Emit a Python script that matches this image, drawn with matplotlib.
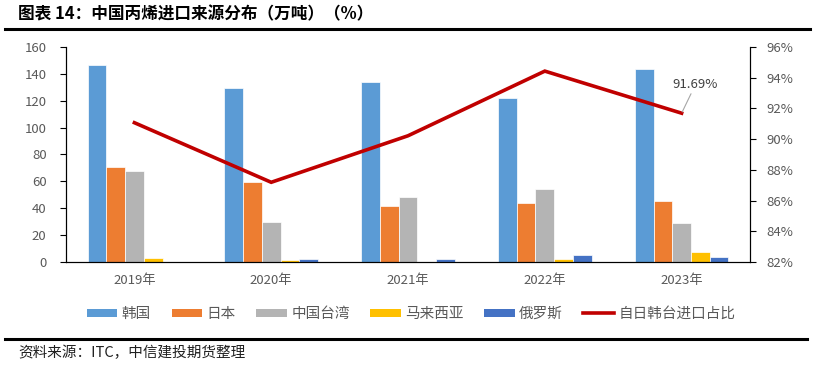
import numpy as np
import matplotlib
matplotlib.use('Agg')
import matplotlib.pyplot as plt
from matplotlib.lines import Line2D
from matplotlib.patches import Patch
from matplotlib.ticker import FuncFormatter

plt.rcParams['font.family'] = ['Noto Sans CJK SC', 'DejaVu Sans']

years = ['2019年', '2020年', '2021年', '2022年', '2023年']
korea = [146.5, 129.2, 134.2, 122.3, 143.6]
japan = [70.4, 59.8, 41.9, 43.6, 45.4]
taiwan = [67.7, 29.5, 48.6, 54.3, 29.3]
malaysia = [2.7, 1.7, 0.2, 2.3, 7.2]
russia = [0.3, 2.2, 2.5, 5.0, 3.7]
share = [91.07, 87.19, 90.22, 94.43, 91.69]

series = [('韩国', korea, '#5B9BD5'),
          ('日本', japan, '#ED7D31'),
          ('中国台湾', taiwan, '#B4B4B4'),
          ('马来西亚', malaysia, '#FFC000'),
          ('俄罗斯', russia, '#4472C4')]

fig = plt.figure(figsize=(8.14, 3.73), dpi=100)
ax = fig.add_axes([0.0811, 0.2976, 0.8403, 0.5764])
x = np.arange(len(years))
w = 0.137
for i, (name, vals, col) in enumerate(series):
    ax.bar(x + (i - 2) * w, vals, width=w, color=col, edgecolor='white', linewidth=0.5)

ax.set_xlim(-0.5, len(years) - 0.5)
ax.set_ylim(0, 160)
ax.set_yticks(range(0, 161, 20))
ax.set_xticks(x)
ax.set_xticklabels(years)
ax.tick_params(axis='x', length=0, pad=9, labelsize=9.5, colors='#595959')
ax.tick_params(axis='y', length=4, direction='out', labelsize=9.5, labelcolor='#595959', pad=10)
ax.spines['top'].set_visible(False)

ax2 = ax.twinx()
ax2.plot(x, share, color='#C00000', linewidth=2.6, solid_joinstyle='miter')
ax2.set_ylim(82, 96)
ax2.set_yticks(range(82, 97, 2))
ax2.yaxis.set_major_formatter(FuncFormatter(lambda v, p: f'{v:.0f}%'))
ax2.tick_params(axis='y', length=4, direction='out', labelsize=9.5, labelcolor='#595959', pad=8)
ax2.spines['top'].set_visible(False)
ax2.annotate('91.69%', xy=(x[-1], share[-1]), xytext=(10, 16), textcoords='offset points',
             ha='center', va='bottom', fontsize=9.5, color='#404040',
             arrowprops=dict(arrowstyle='-', color='#A6A6A6', lw=0.8, shrinkA=0, shrinkB=1))

handles = [Patch(facecolor=c, label=n) for n, v, c in series]
handles.append(Line2D([0], [0], color='#C00000', lw=2.6, label='自日韩台进口占比'))
fig.legend(handles=handles, loc='center', bbox_to_anchor=(0.505, 0.158), ncol=6, frameon=False,
           fontsize=10.5, handlelength=2.1, handleheight=0.5, columnspacing=1.4, handletextpad=0.3,
           labelcolor='#595959')

fig.text(0.022, 0.962, '图表 14：中国丙烯进口来源分布（万吨）（%）', fontsize=12, fontweight='bold', va='center')
fig.add_artist(Line2D([0.006, 0.995], [0.922, 0.922], color='black', lw=2.2, transform=fig.transFigure))
fig.add_artist(Line2D([0.006, 0.992], [0.091, 0.091], color='black', lw=2.2, transform=fig.transFigure))
fig.text(0.022, 0.055, '资料来源：ITC，中信建投期货整理', fontsize=10.5, style='italic', va='center', color='#202020')

fig.savefig('out.png', dpi=100)
